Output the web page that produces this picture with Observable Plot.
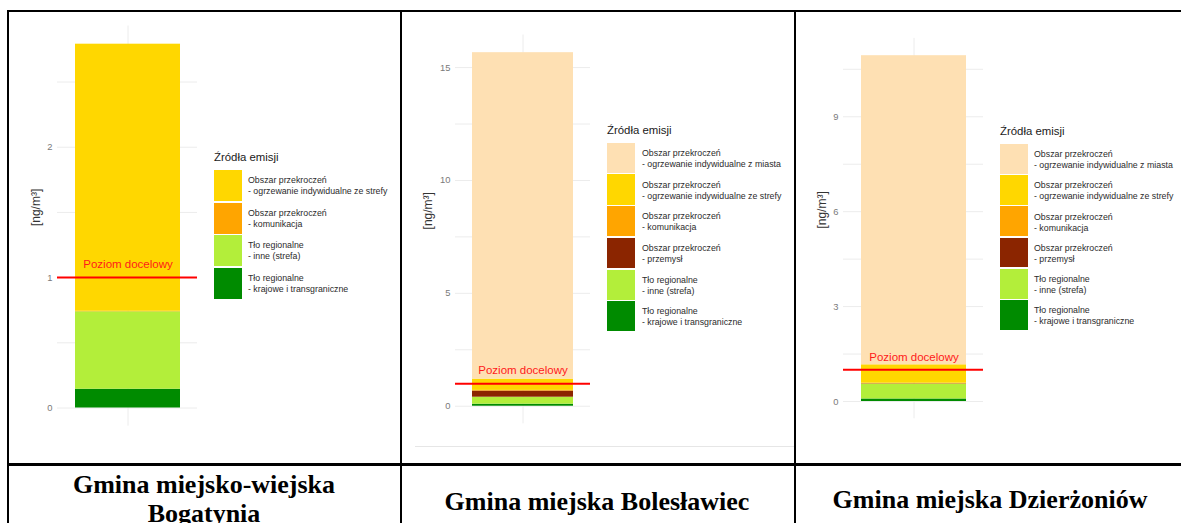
<!DOCTYPE html>
<html><head><meta charset="utf-8">
<script src="https://cdn.jsdelivr.net/npm/d3@7"></script>
<script src="https://cdn.jsdelivr.net/npm/@observablehq/plot@0.6"></script>
<style>
html,body{margin:0;padding:0;background:#fff;}
body{width:1181px;height:523px;overflow:hidden;position:relative;font-family:"Liberation Sans",Arial,sans-serif;}
.abs{position:absolute;}
.bline{position:absolute;background:#000;z-index:5;}
.ptitle{position:absolute;font-family:"Liberation Serif","Times New Roman",serif;font-weight:bold;font-size:26px;line-height:29px;text-align:center;color:#000;z-index:6;white-space:nowrap;}
.lgtitle{position:absolute;font-size:11.4px;line-height:13px;color:#1a1a1a;white-space:nowrap;}
.sw{position:absolute;width:28px;}
.lgtext{position:absolute;font-size:8.8px;line-height:11px;color:#2b2b2b;white-space:nowrap;}
svg{overflow:visible;}
</style></head>
<body>
<script>
// ---- data ----
const sourceGroup = ["Obszar przekroczeń","Obszar przekroczeń","Obszar przekroczeń","Obszar przekroczeń","Tło regionalne","Tło regionalne"];
const sourceDetail = ["- ogrzewanie indywidualne z miasta","- ogrzewanie indywidualne ze strefy","- komunikacja","- przemysł","- inne (strefa)","- krajowe i transgraniczne"];
const sourceColors = ["#FEE0B3","#FFD700","#FFA500","#8B2500","#B3EE3A","#008B00"];
const bogatyniaValues   = [null, 2.048, 0.004, null, 0.594, 0.144];
const boleslawiecValues = [14.46, 0.50, 0.03, 0.27, 0.31, 0.09];
const dzierzoniowValues = [9.77, 0.58, 0.02, 0.01, 0.47, 0.08];
const bogatyniaTicks = [0, 1, 2];
const boleslawiecTicks = [0, 5, 10, 15];
const dzierzoniowTicks = [0, 3, 6, 9];
const targetLevel = 1;
const targetLabel = "Poziom docelowy";
const unitLabel = "[ng/m³]";
const legendTitle = "Źródła emisji";
const panelTitles = [["Gmina miejsko-wiejska","Bogatynia"],["Gmina miejska Bolesławiec"],["Gmina miejska Dzierżoniów"]];

const sourceKeys = sourceDetail.map((d, i) => sourceGroup[i] + " " + d);

// ---- layout ----
const panels = [
  {values: bogatyniaValues, ticks: bogatyniaTicks, left: 0, width: 400, frameLeft: 57, frameRight: 197, frameTop: 25.5, frameBottom: 425.7, labelDx: -21,
   lg: {x: 214, titleY: 157, top: 170, step: 32.5, h: 31, tx: 248}, title: {cx: 204, top: 470}},
  {values: boleslawiecValues, ticks: boleslawiecTicks, left: 400, width: 395, frameLeft: 455, frameRight: 590, frameTop: 34.5, frameBottom: 423.4, labelDx: -27,
   lg: {x: 607, titleY: 130, top: 142.7, step: 31.7, h: 30.2, tx: 642}, title: {cx: 597, top: 487}},
  {values: dzierzoniowValues, ticks: dzierzoniowTicks, left: 795, width: 386, frameLeft: 843, frameRight: 983, frameTop: 37.9, frameBottom: 418.3, labelDx: -21,
   lg: {x: 1000, titleY: 131.7, top: 144, step: 31.2, h: 29.8, tx: 1034}, title: {cx: 990, top: 485}}
];
const H = 464;

function el(cls, css, text) {
  const d = document.createElement("div");
  d.className = cls;
  Object.assign(d.style, css);
  if (text != null) d.textContent = text;
  document.body.appendChild(d);
  return d;
}

panels.forEach((p, pi) => {
  const rows = [];
  for (let i = sourceKeys.length - 1; i >= 0; i--) {
    if (p.values[i] != null) rows.push({cat: "a", source: sourceKeys[i], value: p.values[i]});
  }
  const total = d3.sum(rows, d => d.value);
  const step = p.ticks[1] - p.ticks[0];
  const gridVals = d3.range(0, total * 1.05 + 1e-9, step / 2);
  const chart = Plot.plot({
    width: p.width, height: H,
    marginLeft: p.frameLeft - p.left,
    marginRight: p.left + p.width - p.frameRight,
    marginTop: p.frameTop,
    marginBottom: H - p.frameBottom,
    style: {fontSize: "9.4px", fontFamily: "Liberation Sans, Arial, sans-serif", color: "#7a7a7a", background: "transparent"},
    x: {domain: ["a"], axis: null, paddingInner: 0, paddingOuter: 1/6},
    y: {domain: [-0.05 * total, 1.05 * total], ticks: p.ticks, tickSize: 0, tickPadding: 5, label: null, tickFormat: d => String(d)},
    color: {domain: sourceKeys, range: sourceColors},
    marks: [
      Plot.ruleY(gridVals, {stroke: "#ececec", strokeWidth: 1}),
      Plot.ruleX(["a"], {stroke: "#ececec", strokeWidth: 1}),
      Plot.barY(rows, {x: "cat", y: "value", fill: "source", insetLeft: 0, insetRight: 0}),
      Plot.ruleY([targetLevel], {stroke: "#ff0000", strokeWidth: 2}),
      Plot.text([targetLevel], {x: () => "a", y: d => d, text: () => targetLabel, dy: -13, fill: "#ff1a1a", fontSize: 11.5}),
      Plot.text([unitLabel], {text: d => d, frameAnchor: "left", dx: p.labelDx, rotate: -90, fill: "#333", fontSize: 12})
    ]
  });
  const wrap = el("abs", {left: p.left + "px", top: "0px", width: p.width + "px", height: H + "px"});
  wrap.appendChild(chart);

  // legend
  el("lgtitle", {left: p.lg.x + "px", top: (p.lg.titleY - 6.5) + "px"}, legendTitle);
  let k = 0;
  sourceKeys.forEach((key, i) => {
    if (p.values[i] == null) return;
    const top = p.lg.top + k * p.lg.step;
    el("sw", {left: p.lg.x + "px", top: top + "px", height: p.lg.h + "px", background: sourceColors[i]});
    const t = el("lgtext", {left: p.lg.tx + "px", top: (top + 5.2) + "px"});
    t.innerHTML = sourceGroup[i] + "<br>" + sourceDetail[i];
    k++;
  });

  // title below
  const tt = el("ptitle", {left: (p.title.cx - 200) + "px", width: "400px", top: p.title.top + "px"});
  tt.innerHTML = panelTitles[pi].join("<br>");
});

// light separator in middle panel image
el("abs", {left: "415px", top: "446px", width: "380px", height: "1px", background: "#e6e6e6"});

// table borders
el("bline", {left: "7px", top: "10px", width: "1174px", height: "2px"});
el("bline", {left: "7px", top: "10px", width: "2px", height: "513px"});
el("bline", {left: "7px", top: "463px", width: "1174px", height: "2.5px"});
el("bline", {left: "399.5px", top: "10px", width: "2px", height: "513px"});
el("bline", {left: "793.5px", top: "10px", width: "2px", height: "513px"});
</script>
</body></html>
